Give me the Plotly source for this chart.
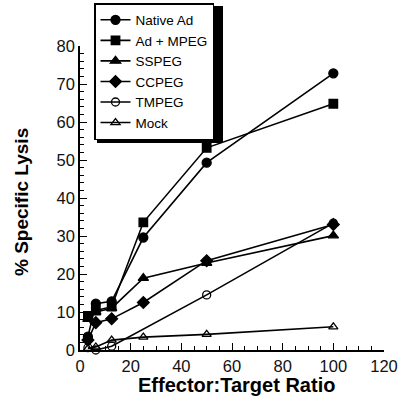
import plotly.graph_objects as go

ratio = [3.125, 6.25, 12.5, 25, 50, 100]
native_ad = [3.5, 12.2, 12.8, 29.6, 49.3, 72.8]
ad_mpeg = [9.0, 10.4, 11.4, 33.6, 53.2, 64.8]
sspeg = [8.1, 10.0, 11.0, 18.9, 22.9, 30.1]
ccpeg = [2.6, 7.2, 8.2, 12.5, 23.5, 33.0]
tmpeg = [0.6, 0.0, 1.0, None, 14.5, 33.4]
mock = [0.4, 0.8, 2.6, 3.4, 4.1, 6.1]

x_title = "Effector:Target Ratio"
y_title = "% Specific Lysis"

series = [
    ("Native Ad", native_ad, "circle"),
    ("Ad + MPEG", ad_mpeg, "square"),
    ("SSPEG", sspeg, "triangle-up"),
    ("CCPEG", ccpeg, "diamond"),
    ("TMPEG", tmpeg, "circle-open"),
    ("Mock", mock, "triangle-up-open"),
]
sizes = {"circle": 9, "square": 8.5, "triangle-up": 9, "diamond": 9,
         "circle-open": 8, "triangle-up-open": 8}

fig = go.Figure()
for name, vals, sym in series:
    fig.add_trace(go.Scatter(
        x=ratio, y=vals, name=name, mode="lines+markers",
        connectgaps=True, cliponaxis=False,
        line=dict(color="black", width=1.6),
        marker=dict(symbol=sym, size=sizes[sym], color="black",
                    line=dict(color="black", width=1.3)),
    ))

font = "Liberation Sans, Arial, sans-serif"
axis_common = dict(
    showgrid=False, zeroline=False, showline=True, linecolor="black",
    linewidth=1.5, ticks="inside", tickcolor="black", tickwidth=1.3,
    ticklen=7, tickfont=dict(family=font, size=16.5, color="#111"),
)
fig.update_xaxes(range=[0, 120], tick0=0, dtick=20,
                 minor=dict(dtick=5, ticks="inside", ticklen=4,
                            tickcolor="black", tickwidth=1.2),
                 ticklabeloverflow="allow",
                 **axis_common)
fig.update_yaxes(range=[0, 80], tick0=0, dtick=10,
                 minor=dict(dtick=2, ticks="inside", ticklen=4,
                            tickcolor="black", tickwidth=1.2),
                 **axis_common)

# axis titles
fig.add_annotation(text=f"<b>{x_title}</b>", xref="paper", yref="paper",
                   x=(236 - 80) / 304, y=(350 - 385) / 304,
                   xanchor="center", yanchor="middle", showarrow=False,
                   font=dict(family=font, size=20, color="black"))
fig.add_annotation(text=f"<b>{y_title}</b>", xref="paper", yref="paper",
                   x=(22 - 80) / 304, y=(350 - 202) / 304, textangle=-90,
                   xanchor="center", yanchor="middle", showarrow=False,
                   font=dict(family=font, size=19, color="black"))

# legend drop shadow
fig.add_shape(type="rect", xref="paper", yref="paper",
              x0=(97 - 80) / 304, x1=(223 - 80) / 304,
              y0=(350 - 143) / 304, y1=(350 - 6) / 304,
              fillcolor="black", line=dict(width=0), layer="above")

fig.update_layout(
    width=400, height=403,
    margin=dict(l=80, r=16, t=46, b=53, autoexpand=False),
    paper_bgcolor="white", plot_bgcolor="white",
    showlegend=True,
    legend=dict(x=(94 - 80) / 304, y=(350 - 3) / 304, xanchor="left", yanchor="top",
                bgcolor="white", bordercolor="black", borderwidth=1.5,
                font=dict(family=font, size=13.5, color="black"),
                itemwidth=30),
)
fig.write_html("out.html", config={"displayModeBar": False},
               post_script="document.body.style.margin='0px';")
